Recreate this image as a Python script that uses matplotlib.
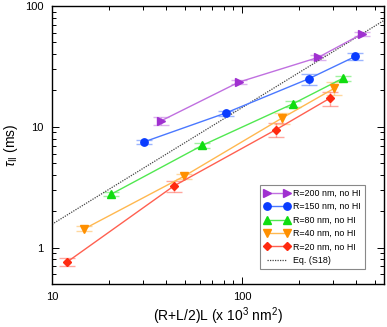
import matplotlib
matplotlib.use("Agg")
import matplotlib.pyplot as plt
from matplotlib.ticker import LogLocator, NullFormatter, FixedLocator, FixedFormatter

plt.rcParams['font.family'] = ['Liberation Sans', 'DejaVu Sans']
plt.rcParams['mathtext.fontset'] = 'custom'
plt.rcParams['mathtext.rm'] = 'Liberation Sans'
plt.rcParams['mathtext.it'] = 'Liberation Sans:italic'

# ---- data ----
labels = ["R=200 nm, no HI", "R=150 nm, no HI", "R=80 nm, no HI",
          "R=40 nm, no HI", "R=20 nm, no HI"]

x_r200 = [37.5, 96.8, 252, 431]
y_r200 = [11.2, 23.5, 37.5, 59]
e_r200 = [0.8, 0.9, 1.5, 2.5]

x_r150 = [30.5, 82.1, 225, 395]
y_r150 = [7.5, 13.0, 25.0, 38.2]
e_r150 = [0.3, 0.6, 2.6, 2.5]

x_r80 = [20.5, 61.8, 185.5, 340]
y_r80 = [2.77, 7.02, 15.5, 25.2]
e_r80 = [0.12, 0.3, 0.8, 1.2]

x_r40 = [14.8, 49.3, 162.4, 306]
y_r40 = [1.43, 3.88, 11.8, 20.8]
e_r40 = [0.07, 0.2, 1.3, 2.5]

x_r20 = [12.0, 43.7, 151.6, 291.6]
y_r20 = [0.76, 3.23, 9.5, 17.3]
e_r20 = [0.06, 0.35, 1.2, 2.3]

eq_x = [10, 560]
eq_y = [1.56, 76]
eq_label = "Eq. (S18)"

xs = [x_r200, x_r150, x_r80, x_r40, x_r20]
ys = [y_r200, y_r150, y_r80, y_r40, y_r20]
es = [e_r200, e_r150, e_r80, e_r40, e_r20]

mark_colors = ['#a030d0', '#0a3cff', '#10dd10', '#ff9000', '#ff2a10']
line_colors = ['#c070e0', '#4a78ff', '#50e850', '#ffb850', '#ff6050']
markers = ['>', 'o', '^', 'v', 'D']
msizes = [5.3, 5.3, 5.3, 5.3, 4.2]

fig = plt.figure(figsize=(3.87, 3.27), dpi=100)
ax = fig.add_axes([52/387, 1-284/327, 332/387, 278/327])

for x, y, e, mc, lc, m, ms, lab in zip(xs, ys, es, mark_colors, line_colors,
                                       markers, msizes, labels):
    ax.errorbar(x, y, yerr=e, fmt='none', ecolor=lc, alpha=0.55,
                elinewidth=1, capsize=5.5, capthick=1, zorder=2)
    ax.plot(x, y, '-', color=lc, lw=1, marker=m, ms=ms, mfc=mc, mec=mc,
            label=lab, zorder=3)

ax.plot(eq_x, eq_y, color='#444444', lw=0.9, linestyle=(0, (1, 1)),
        label=eq_label, zorder=2.5)

ax.set_xscale('log')
ax.set_yscale('log')
ax.set_xlim(10, 560)
ax.set_ylim(0.5, 100)

ax.xaxis.set_major_locator(FixedLocator([10, 100]))
ax.xaxis.set_major_formatter(FixedFormatter(['10', '100']))
ax.xaxis.set_minor_locator(LogLocator(base=10, subs=range(2, 10)))
ax.xaxis.set_minor_formatter(NullFormatter())
ax.yaxis.set_major_locator(FixedLocator([1, 10, 100]))
ax.yaxis.set_major_formatter(FixedFormatter(['1', '10', '100']))
ax.yaxis.set_minor_locator(LogLocator(base=10, subs=range(2, 10)))
ax.yaxis.set_minor_formatter(NullFormatter())

ax.tick_params(which='both', direction='in', top=True, right=True,
               labelsize=8, width=0.7)
ax.tick_params(which='major', length=5, pad=6)
ax.tick_params(which='minor', length=3)
for s in ax.spines.values():
    s.set_linewidth(1)

ax.set_xlabel(r'(R+L/2)L (x 10$^3$ nm$^2$)', fontsize=10, labelpad=2)
ax.set_ylabel(r'$\tau_{\rm II}$ (ms)', fontsize=10, labelpad=4)

leg = ax.legend(loc='lower left', bbox_to_anchor=(0.6265, 0.054),
                borderaxespad=0, fontsize=6.4, numpoints=2, handlelength=2.9,
                handletextpad=0.4, labelspacing=0.5, borderpad=0.45,
                fancybox=False, framealpha=1, edgecolor='#888888')
leg.get_frame().set_linewidth(0.8)

fig.savefig('out.png', dpi=100)
